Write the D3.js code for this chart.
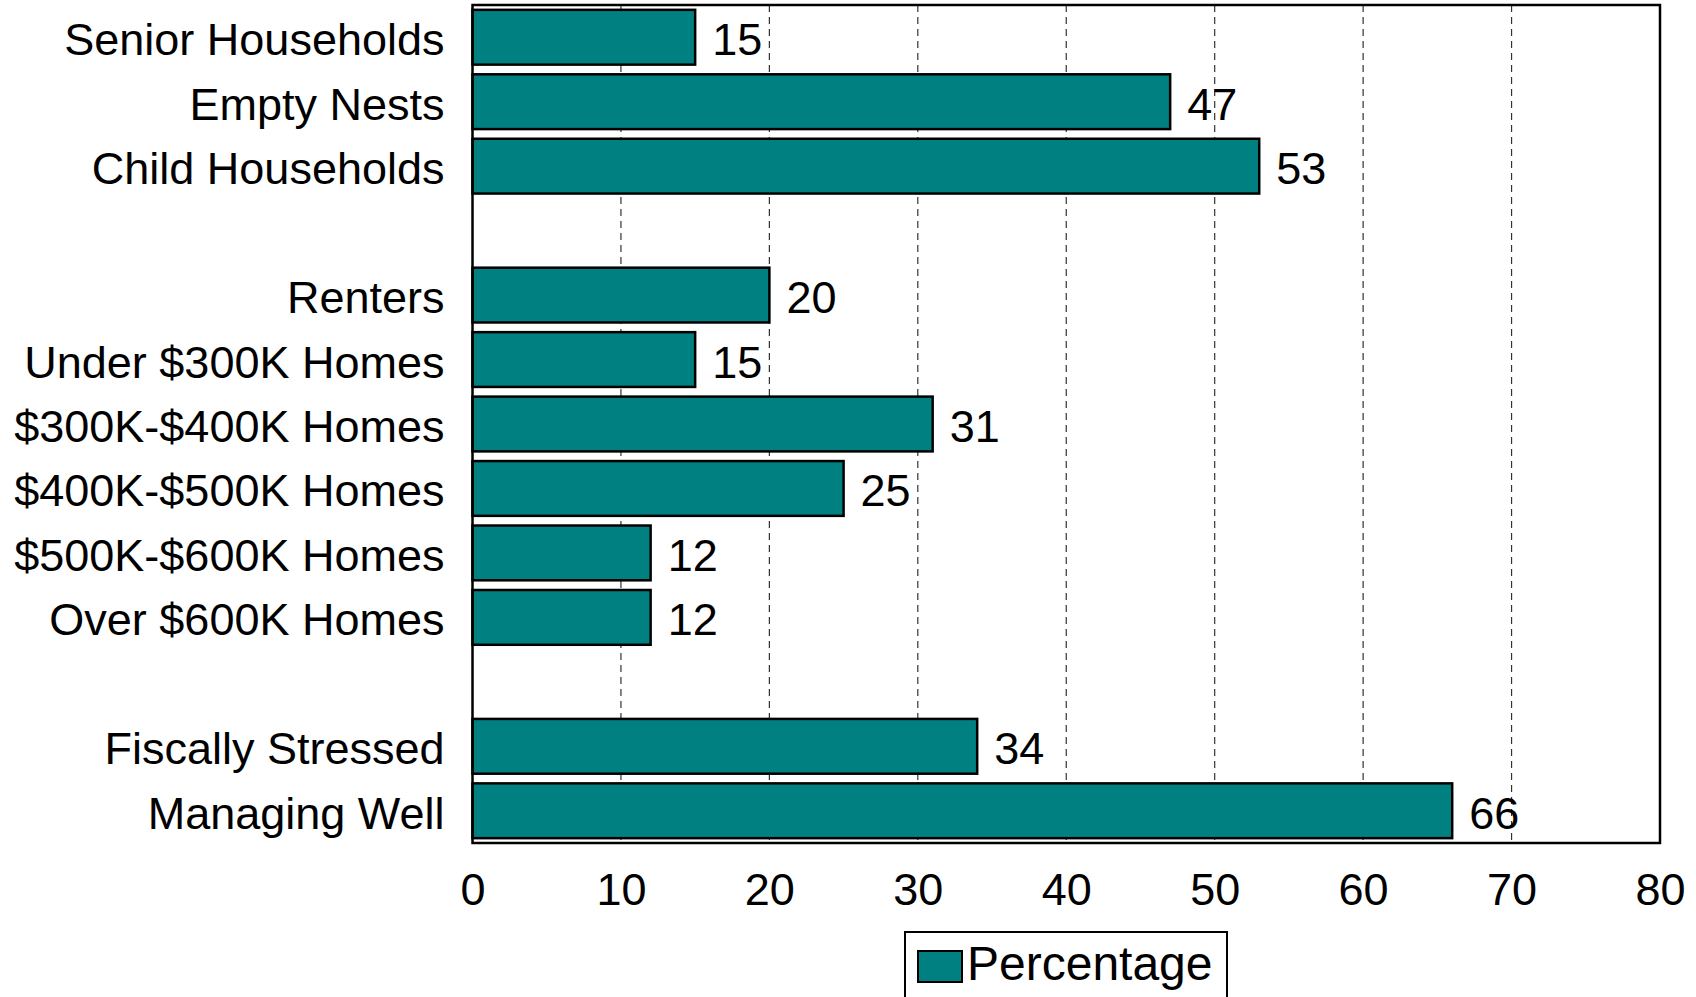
<!DOCTYPE html>
<html>
<head>
<meta charset="utf-8">
<script src="https://cdn.jsdelivr.net/npm/d3@7"></script>
<style>
  body { margin: 0; background: #fff; }
  text { font-family: "Liberation Sans", Arial, sans-serif; fill: #000; }
</style>
</head>
<body>
<div id="chart"></div>
<script>
// data (blank entries are the spacer rows between groups)
var categories = ["Senior Households", "Empty Nests", "Child Households", "",
                  "Renters", "Under $300K Homes", "$300K-$400K Homes", "$400K-$500K Homes",
                  "$500K-$600K Homes", "Over $600K Homes", " ",
                  "Fiscally Stressed", "Managing Well"];
var values = [15, 47, 53, null, 20, 15, 31, 25, 12, 12, null, 34, 66];
var xTicks = [0, 10, 20, 30, 40, 50, 60, 70, 80];
var seriesName = "Percentage";

var width = 1696, height = 997;
var plot_left = 472.5, plot_right = 1660, plot_top = 5, plot_bottom = 843;
var bar_color = "#008080";
var font_size = 45;

var rows = categories.map(function(c, i) { return { key: i, name: c, value: values[i] }; });

var svg = d3.select("#chart").append("svg")
            .attr("width", width)
            .attr("height", height);

var x = d3.scaleLinear().domain([0, 80]).range([plot_left, plot_right]);
var y = d3.scaleBand()
          .domain(rows.map(function(d) { return d.key; }))
          .range([plot_top, plot_bottom])
          .paddingInner(0.15)
          .paddingOuter(0.075);

// dashed gridlines
svg.append("g")
   .selectAll("line")
   .data(xTicks.slice(1, -1))
   .enter().append("line")
   .attr("x1", function(d) { return x(d); })
   .attr("x2", function(d) { return x(d); })
   .attr("y1", plot_top)
   .attr("y2", plot_bottom)
   .attr("stroke", "#333")
   .attr("stroke-width", 1.2)
   .attr("stroke-dasharray", "7,5");

// bars
var bars = rows.filter(function(d) { return d.value != null; });
svg.append("g")
   .selectAll("rect")
   .data(bars)
   .enter().append("rect")
   .attr("x", x(0))
   .attr("y", function(d) { return y(d.key); })
   .attr("width", function(d) { return x(d.value) - x(0); })
   .attr("height", y.bandwidth())
   .attr("fill", bar_color)
   .attr("stroke", "#000")
   .attr("stroke-width", 2.5);

// value labels
svg.append("g")
   .selectAll("text")
   .data(bars)
   .enter().append("text")
   .attr("x", function(d) { return x(d.value) + 17; })
   .attr("y", function(d) { return y(d.key) + y.bandwidth() / 2; })
   .attr("dy", "0.40em")
   .style("font-size", font_size + "px")
   .text(function(d) { return d.value; });

// plot frame
svg.append("rect")
   .attr("x", plot_left)
   .attr("y", plot_top)
   .attr("width", plot_right - plot_left)
   .attr("height", plot_bottom - plot_top)
   .attr("fill", "none")
   .attr("stroke", "#000")
   .attr("stroke-width", 2.5);

// category axis
var yAxis = svg.append("g")
               .attr("transform", "translate(" + plot_left + ",0)")
               .call(d3.axisLeft(y).tickSize(0).tickPadding(28)
                       .tickFormat(function(k) { return categories[k]; }));
yAxis.select(".domain").remove();
yAxis.selectAll("text")
     .attr("dy", "0.40em")
     .style("font-size", font_size + "px")
     .style("font-family", "'Liberation Sans', Arial, sans-serif");

// value axis
var xAxis = svg.append("g")
               .attr("transform", "translate(0," + plot_bottom + ")")
               .call(d3.axisBottom(x).tickValues(xTicks).tickSize(0).tickPadding(30));
xAxis.select(".domain").remove();
xAxis.selectAll("text")
     .style("font-size", font_size + "px")
     .style("font-family", "'Liberation Sans', Arial, sans-serif");

// legend
var legend = svg.append("g").attr("transform", "translate(905,932)");
legend.append("rect")
      .attr("width", 322)
      .attr("height", 80)
      .attr("fill", "#fff")
      .attr("stroke", "#000")
      .attr("stroke-width", 2);
legend.append("rect")
      .attr("x", 13)
      .attr("y", 19)
      .attr("width", 44)
      .attr("height", 31)
      .attr("fill", bar_color)
      .attr("stroke", "#000")
      .attr("stroke-width", 2);
legend.append("text")
      .attr("x", 62)
      .attr("y", 48)
      .style("font-size", "48px")
      .text(seriesName);
</script>
</body>
</html>
